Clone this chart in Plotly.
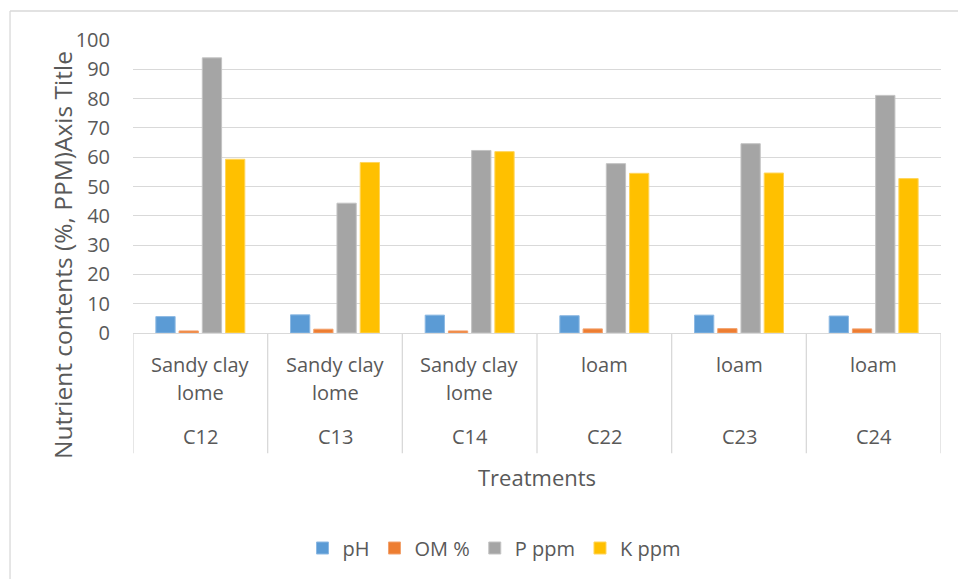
import plotly.graph_objects as go

treatments = ["C12", "C13", "C14", "C22", "C23", "C24"]
soil_line1 = ["Sandy clay", "Sandy clay", "Sandy clay", "loam", "loam", "loam"]
soil_line2 = ["lome", "lome", "lome", "", "", ""]

ph = [5.6, 6.2, 6.1, 5.9, 6.1, 5.8]
om = [0.7, 1.3, 0.7, 1.4, 1.5, 1.4]
p_ppm = [93.9, 44.3, 62.3, 57.8, 64.6, 81.1]
k_ppm = [59.3, 58.2, 61.9, 54.5, 54.6, 52.7]

series_names = ["pH", "OM %", "P ppm", "K ppm"]
series_colors = ["#5B9BD5", "#ED7D31", "#A5A5A5", "#FFC000"]
series_edges = ["#8DB9E3", "#F2A26F", "#C3C3C3", "#FFD55C"]
y_ticks = [0, 10, 20, 30, 40, 50, 60, 70, 80, 90, 100]

FONT = "Open Sans, sans-serif"
TXT = "#595959"
GRID = "#D9D9D9"

fig = go.Figure()
x_idx = list(range(len(treatments)))
for name, vals, col, edge in zip(series_names, [ph, om, p_ppm, k_ppm], series_colors, series_edges):
    fig.add_trace(go.Bar(x=x_idx, y=vals, name=name, marker=dict(color=col, line=dict(color=edge, width=1))))

shapes = []
n = len(treatments)
for i in range(n + 1):
    shapes.append(dict(type="line", xref="x", yref="paper", x0=i - 0.5, x1=i - 0.5,
                       y0=0, y1=-0.41, line=dict(color=GRID, width=1.3)))
shapes.append(dict(type="line", xref="paper", yref="paper", x0=-0.1522, x1=1.03, y0=1.099, y1=1.099,
                   line=dict(color=GRID, width=1.3)))
shapes.append(dict(type="line", xref="paper", yref="paper", x0=-0.1522, x1=-0.1522, y0=1.099, y1=-0.85,
                   line=dict(color=GRID, width=1.3)))

annotations = []
for i in range(n):
    annotations.append(dict(x=i, y=0, xref="x", yref="y", text=soil_line1[i], showarrow=False,
                            yanchor="middle", yshift=-31, font=dict(family=FONT, size=20, color=TXT)))
    if soil_line2[i]:
        annotations.append(dict(x=i, y=0, xref="x", yref="y", text=soil_line2[i], showarrow=False,
                                yanchor="middle", yshift=-59, font=dict(family=FONT, size=20, color=TXT)))
    annotations.append(dict(x=i, y=0, xref="x", yref="y", text=treatments[i], showarrow=False,
                            yanchor="middle", yshift=-103, font=dict(family=FONT, size=20, color=TXT)))

annotations.append(dict(x=0.5, y=0, xref="paper", yref="y", text="Treatments", showarrow=False,
                        yanchor="middle", yshift=-144, font=dict(family=FONT, size=22, color=TXT)))
annotations.append(dict(x=(62 - 133) / 808, y=(333 - 255) / 293, xref="paper", yref="paper",
                        text="Nutrient contents (%, PPM)Axis Title", showarrow=False, textangle=-90,
                        xanchor="center", yanchor="middle", font=dict(family=FONT, size=24.5, color=TXT)))

fig.update_layout(
    width=958, height=579,
    margin=dict(l=133, r=17, t=40, b=246),
    paper_bgcolor="white", plot_bgcolor="white",
    barmode="group", bargap=0.31, bargroupgap=0.17,
    font=dict(family=FONT, color=TXT),
    xaxis=dict(range=[-0.5, n - 0.5], showticklabels=False, showgrid=False, zeroline=False,
               showline=True, linecolor=GRID, linewidth=1.3, ticks=""),
    yaxis=dict(range=[0, 100], tickvals=y_ticks, showgrid=True, gridcolor=GRID, gridwidth=1.3,
               zeroline=False, showline=False, ticks="", ticklabelstandoff=22,
               tickfont=dict(family=FONT, size=20, color=TXT)),
    legend=dict(orientation="h", xref="container", yref="container", x=494 / 958, y=1 - 548 / 579,
                xanchor="center", yanchor="middle", font=dict(family=FONT, size=20, color=TXT),
                traceorder="normal"),
    shapes=shapes, annotations=annotations,
)

fig.write_html("out.html", post_script="document.body.style.margin='0';",
               config={"displayModeBar": False})
